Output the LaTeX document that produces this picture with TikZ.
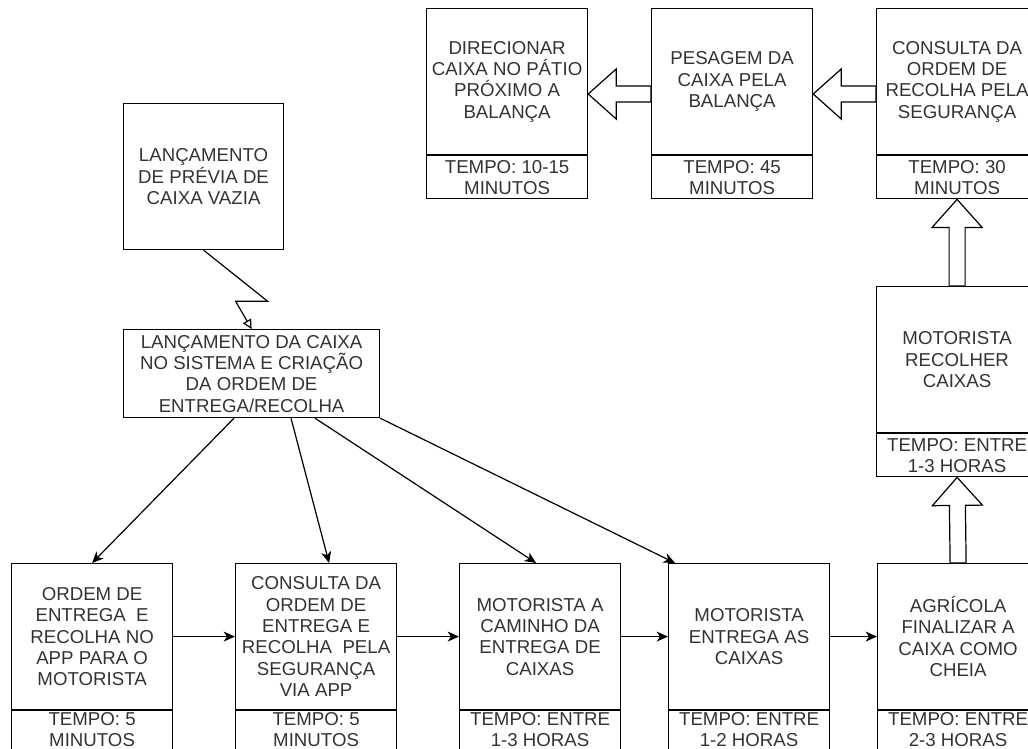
\documentclass[tikz,border=0pt]{standalone}
\usepackage{fontspec}
\setmainfont{Liberation Sans}
\usepackage{tikz}
\usetikzlibrary{arrows.meta,positioning,calc}

% wide hollow arrow between two points
\newcommand{\hollowarrow}[2]{%
  \coordinate (hb) at ($(#2)!21pt!(#1)$);
  \draw[bigarrow] ($(#1)!6pt!90:(#2)$) -- ($(hb)!6pt!-90:(#1)$)
    -- ($(hb)!18.75pt!-90:(#1)$) -- (#2)
    -- ($(hb)!18.75pt!90:(#1)$) -- ($(hb)!6pt!90:(#1)$)
    -- ($(#1)!6pt!-90:(#2)$) -- cycle;
}

\begin{document}
\begin{tikzpicture}[
  x=0.75pt, y=-0.75pt,
  box/.style={
    draw=black,
    line width=0.9pt,
    align=center,
    inner sep=1pt,
    text=black!80,
    font=\fontsize{14pt}{16pt}\selectfont
  },
  task/.style={box, minimum width=120.75pt, minimum height=109.5pt},
  tempo/.style={box, minimum width=120.75pt, minimum height=32.25pt},
  tempolow/.style={tempo, text depth=6pt},
  flow/.style={
    -{Stealth[length=8.5pt,width=7.5pt,inset=2.5pt]},
    draw=black,
    line width=0.9pt
  },
  zig/.style={
    -{Triangle[open,length=7pt,width=7pt]},
    draw=black,
    line width=0.9pt
  },
  bigarrow/.style={draw=black, line width=0.9pt, fill=white, line join=miter},
  node distance=0pt
]
\useasboundingbox (0,0) rectangle (1028,749);
\clip (0,0) rectangle (1028,749);

% Start of the process
\node[box, anchor=north west, minimum width=120pt, minimum height=109.5pt] (previa) at (123,103) {
  LANÇAMENTO\\
  DE PRÉVIA DE\\
  CAIXA VAZIA
};

\node[box, anchor=north west, minimum width=192pt, minimum height=66pt] (sistema) at (123,329) {
  LANÇAMENTO DA CAIXA\\
  NO SISTEMA E CRIAÇÃO\\
  DA ORDEM DE\\
  ENTREGA/RECOLHA
};

% Bottom row
\node[task, anchor=north west] (ordem) at (11,563) {
  ORDEM DE\\
  ENTREGA~ E\\
  RECOLHA NO\\
  APP PARA O\\
  MOTORISTA
};
\node[tempolow, below=of ordem] (ordemT) {TEMPO: 5\\MINUTOS};

\node[task, anchor=north west] (seguranca) at (235,563) {
  CONSULTA DA\\
  ORDEM DE\\
  ENTREGA E\\
  RECOLHA~ PELA\\
  SEGURANÇA\\
  VIA APP
};
\node[tempolow, below=of seguranca] (segurancaT) {TEMPO: 5\\MINUTOS};

\node[task, anchor=north west] (caminho) at (459,563) {
  MOTORISTA A\\
  CAMINHO DA\\
  ENTREGA DE\\
  CAIXAS
};
\node[tempolow, below=of caminho] (caminhoT) {TEMPO: ENTRE\\1-3 HORAS};

\node[task, anchor=north west] (entrega) at (668,563) {
  MOTORISTA\\
  ENTREGA AS\\
  CAIXAS
};
\node[tempolow, below=of entrega] (entregaT) {TEMPO: ENTRE\\1-2 HORAS};

\node[task, anchor=north west] (agricola) at (877,563) {
  AGRÍCOLA\\
  FINALIZAR A\\
  CAIXA COMO\\
  CHEIA
};
\node[tempolow, below=of agricola] (agricolaT) {TEMPO: ENTRE\\2-3 HORAS};

% Right column
\node[task, anchor=north west] (recolher) at (876,286) {
  MOTORISTA\\
  RECOLHER\\
  CAIXAS
};
\node[tempo, below=of recolher] (recolherT) {TEMPO: ENTRE\\1-3 HORAS};

% Top row
\node[task, anchor=north west] (consulta) at (876,8) {
  CONSULTA DA\\
  ORDEM DE\\
  RECOLHA PELA\\
  SEGURANÇA
};
\node[tempo, below=of consulta] (consultaT) {TEMPO: 30\\MINUTOS};

\node[task, anchor=north west] (pesagem) at (651,8) {
  PESAGEM DA\\
  CAIXA PELA\\
  BALANÇA
};
\node[tempo, below=of pesagem] (pesagemT) {TEMPO: 45\\MINUTOS};

\node[task, anchor=north west] (direcionar) at (426,8) {
  DIRECIONAR\\
  CAIXA NO PÁTIO\\
  PRÓXIMO A\\
  BALANÇA
};
\node[tempo, below=of direcionar] (direcionarT) {TEMPO: 10-15\\MINUTOS};

% Connectors
\draw[zig] (previa.south) -- ++(64,51) -- ++(-32,0) -- (sistema.north);

\draw[flow] ($(sistema.south west)+(111,0)$) -- (ordem.north);
\draw[flow] ($(sistema.south west)+(168,0)$) -- ($(seguranca.north)+(13,0)$);
\draw[flow] ($(sistema.south west)+(192,0)$) -- ($(caminho.north)+(-4,0)$);
\draw[flow] (sistema.south east) -- ($(entrega.north west)+(7,0)$);

\draw[flow] (ordem) -- (seguranca);
\draw[flow] (seguranca) -- (caminho);
\draw[flow] (caminho) -- (entrega);
\draw[flow] (entrega) -- (agricola);

\hollowarrow{agricola.north}{recolherT.south}
\hollowarrow{recolher.north}{consultaT.south}

\coordinate (ytop) at (0,94);
\coordinate (pesW) at (pesagem.west |- ytop);
\coordinate (dirE) at (direcionar.east |- ytop);
\coordinate (conW) at (consulta.west |- ytop);
\coordinate (pesE) at (pesagem.east |- ytop);
\hollowarrow{pesW}{dirE}
\hollowarrow{conW}{pesE}

\end{tikzpicture}
\end{document}
